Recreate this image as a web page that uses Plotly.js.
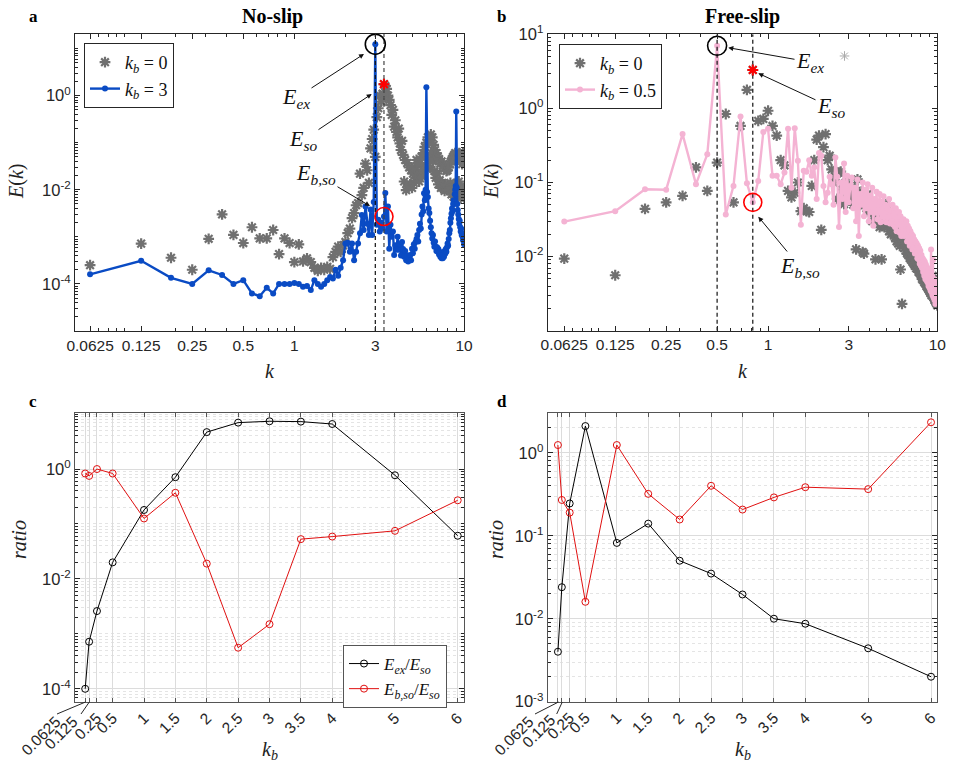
<!DOCTYPE html>
<html><head><meta charset="utf-8">
<script src="https://cdn.plot.ly/plotly-3.0.1.min.js"></script>
<style>body{margin:0;background:#fff}#chart{width:953px;height:763px}</style>
</head><body><div id="chart"></div>
<script>
// ---------- DATA ----------
const k = [
0.0625,0.125,0.1875,0.25,0.3125,0.375,0.4375,0.5,0.5625,0.625,0.6875,0.75,0.8125,0.875,0.9375,1,
1.0625,1.125,1.1875,1.25,1.3125,1.375,1.4375,1.5,1.5625,1.625,1.6875,1.75,1.8125,1.875,1.9375,2,
2.0625,2.125,2.1875,2.25,2.3125,2.375,2.4375,2.5,2.5625,2.625,2.6875,2.75,2.8125,2.875,2.9375,3,
3.0625,3.125,3.1875,3.25,3.3125,3.375,3.4375,3.5,3.5625,3.625,3.6875,3.75,3.8125,3.875,3.9375,4,
4.0625,4.125,4.1875,4.25,4.3125,4.375,4.4375,4.5,4.5625,4.625,4.6875,4.75,4.8125,4.875,4.9375,5,
5.0625,5.125,5.1875,5.25,5.3125,5.375,5.4375,5.5,5.5625,5.625,5.6875,5.75,5.8125,5.875,5.9375,6,
6.0625,6.125,6.1875,6.25,6.3125,6.375,6.4375,6.5,6.5625,6.625,6.6875,6.75,6.8125,6.875,6.9375,7,
7.0625,7.125,7.1875,7.25,7.3125,7.375,7.4375,7.5,7.5625,7.625,7.6875,7.75,7.8125,7.875,7.9375,8,
8.0625,8.125,8.1875,8.25,8.3125,8.375,8.4375,8.5,8.5625,8.625,8.6875,8.75,8.8125,8.875,8.9375,9,
9.0625,9.125,9.1875,9.25,9.3125,9.375,9.4375,9.5,9.5625,9.625,9.6875,9.75,9.8125,9.875,9.9375,10];

// No-slip, kb = 0 (grey asterisks)
const noslip_kb0 = [
2.5e-4,7.2e-4,3.6e-4,2.0e-4,9.1e-4,3.0e-3,1.1e-3,7.4e-4,1.6e-3,9.3e-4,9.3e-4,1.4e-3,4.3e-4,9.3e-4,7.4e-4,2.9e-4,
6.9e-4,3.0e-4,3.5e-4,2.9e-4,2.2e-4,1.9e-4,2.2e-4,2.0e-4,2.3e-4,2.1e-4,3.7e-4,4.8e-4,6.2e-4,4.8e-4,6.6e-4,7.8e-4,
1.2e-3,1.5e-3,2.5e-3,3.2e-3,4.7e-3,5.2e-3,2.2e-2,7.7e-3,1.1e-2,3.6e-2,2.6e-2,1.4e-2,7.6e-2,1.2e-1,1.9e-1,5.0e-2,
3.5e-1,5.4e-1,1.0,7.5e-1,1.1,1.75,1.6,1.4,1.0,8.1e-1,6.3e-1,3.9e-1,5.0e-1,2.2e-1,3.0e-1,1.7e-1,
1.3e-1,2.0e-1,9.7e-2,7.0e-2,1.1e-1,5.5e-2,1.5e-2,4.3e-2,9.8e-3,3.7e-2,1.2e-2,3.0e-2,1.3e-2,2.6e-2,1.1e-2,2.2e-2,
1.4e-2,3.0e-2,1.8e-2,4.3e-2,2.0e-2,3.7e-2,1.5e-2,3.7e-2,2.4e-2,5.0e-2,1.9e-2,6.0e-2,2.6e-2,8.2e-2,3.3e-2,1.0e-1,
2.8e-2,1.3e-1,4.5e-2,1.1e-1,3.0e-2,1.5e-1,6.0e-2,1.3e-1,4.0e-2,9.0e-2,2.5e-2,7.0e-2,1.8e-2,6.0e-2,2.2e-2,5.0e-2,
1.3e-2,4.5e-2,1.6e-2,3.6e-2,1.1e-2,4.0e-2,1.4e-2,3.2e-2,1.2e-2,2.8e-2,9.5e-3,3.0e-2,1.3e-2,2.5e-2,1.0e-2,2.6e-2,
1.2e-2,3.0e-2,9.8e-3,3.5e-2,1.4e-2,4.0e-2,8.0e-3,4.5e-2,1.1e-2,5.0e-2,7.1e-3,5.5e-2,1.3e-2,6.0e-2,9.0e-3,5.5e-2,
1.2e-2,4.5e-2,8.4e-3,5.0e-2,1.5e-2,6.0e-2,1.0e-2,4.0e-2,6.6e-3,5.5e-2,1.2e-2,3.5e-2,8.0e-3,6.2e-2,1.1e-2,4.0e-2];

// No-slip, kb = 3 (blue line)
const noslip_kb3 = [
1.6e-4,3.1e-4,1.35e-4,1.0e-4,1.95e-4,1.55e-4,1.0e-4,1.2e-4,6.3e-5,5.5e-5,8.3e-5,6.3e-5,1.0e-4,1.0e-4,1.0e-4,1.05e-4,
1.0e-4,8.7e-5,9.0e-5,7.4e-5,1.2e-4,1.0e-4,8.7e-5,1.0e-4,1.2e-4,1.4e-4,1.3e-4,2.0e-4,1.5e-4,2.2e-4,3.2e-4,7.2e-4,
7.5e-4,4.8e-4,7.2e-4,3.2e-4,4.8e-4,7.2e-4,1.2e-3,2.9e-3,1.4e-3,4.4e-3,1.9e-3,1.1e-3,3.8e-3,1.1e-3,5.5e-3,12.4,
1.8e-3,2.3e-3,1.3e-3,2.0e-3,1.5e-3,2.7e-3,8.6e-3,1.3e-3,4.4e-3,5.6e-4,1.8e-3,1.0e-3,1.3e-3,4.1e-4,6.6e-4,5.3e-4,
1.0e-3,5.3e-4,7.0e-4,4.0e-4,7.8e-4,5.5e-4,3.8e-4,5.0e-4,3.2e-4,4.0e-4,3.0e-4,3.6e-4,4.1e-4,3.2e-4,5.6e-4,4.5e-4,
7.0e-4,5.6e-4,7.8e-4,9.0e-4,1.1e-3,8.0e-4,1.4e-3,1.9e-3,1.5e-3,3.0e-3,4.4e-3,3.5e-3,8.4e-3,6.0e-3,1.0e-2,1.5,
9.0e-3,7.0e-3,4.0e-3,3.2e-3,2.2e-3,1.6e-3,1.2e-3,9.2e-4,1.1e-3,7.5e-4,6.2e-4,8.0e-4,6.2e-4,5.0e-4,6.0e-4,4.8e-4,
5.5e-4,4.2e-4,4.8e-4,3.8e-4,4.5e-4,3.5e-4,4.0e-4,3.5e-4,4.2e-4,3.8e-4,5.0e-4,4.4e-4,5.5e-4,4.8e-4,6.0e-4,7.2e-4,
6.5e-4,9.0e-4,1.2e-3,1.4e-3,2.0e-3,2.5e-3,3.1e-3,4.0e-3,3.5e-3,5.0e-3,6.0e-3,5.0e-3,8.0e-3,1.0e-2,1.2e-2,0.46,
1.1e-2,5.0e-3,3.7e-3,3.0e-3,2.4e-3,1.9e-3,2.2e-3,1.6e-3,1.3e-3,1.5e-3,1.1e-3,1.2e-3,1.0e-3,8.5e-4,1.0e-3,7.0e-4];

// Free-slip, kb = 0 (grey asterisks)
const freeslip_kb0 = [
9.4e-3,5.6e-3,0.044,0.054,0.066,0.16,0.077,0.186,0.84,0.054,0.58,1.78,3.3,0.68,0.72,0.93,
0.58,0.43,0.2,0.17,0.077,0.063,0.073,0.1,0.041,0.045,0.041,0.04,0.09,0.2,0.38,0.43,
0.023,0.3,0.45,0.2,0.23,0.15,0.1,0.12,0.06,0.136,0.14,0.08,0.051,0.1,0.073,0.09,
0.06,0.07,0.05,0.085,0.0125,0.11,0.06,0.05,0.075,0.0115,0.011,0.06,0.045,0.07,0.04,0.055,
0.041,0.03,0.05,0.035,0.0092,0.045,0.03,0.04,0.025,0.035,0.0092,0.03,0.045,0.025,0.035,0.051,
0.028,0.033,0.022,0.03,0.02,0.027,0.037,0.022,0.025,0.018,0.024,0.016,0.021,0.015,0.02,0.014,
0.0067,0.018,0.0023,0.016,0.021,0.013,0.017,0.012,0.015,0.011,0.014,0.0105,0.013,0.0095,0.012,0.009,
0.011,0.0085,0.0105,0.008,0.0098,0.0075,0.009,0.007,0.0085,0.0068,0.008,0.0062,0.0075,0.006,0.007,0.0057,
0.0065,0.005,0.0062,0.0048,0.0058,0.0045,0.0055,0.0043,0.005,0.004,0.0048,0.0038,0.0045,0.0036,0.0043,0.0034,
0.004,0.0032,0.0038,0.003,0.0036,0.0055,0.0034,0.0028,0.0032,0.0026,0.003,0.0025,0.0024,0.0028,0.0023,0.0022];

// Free-slip, kb = 0.5 (pink line)
const freeslip_kb05 = [
0.0297,0.041,0.081,0.080,0.45,0.095,0.24,7.0,0.037,0.09,0.78,0.098,0.054,0.105,0.48,0.53,
0.123,0.123,0.095,0.136,0.53,0.085,0.54,0.196,0.027,0.144,0.14,0.2,0.123,0.16,0.06,0.25,
0.23,0.09,0.054,0.073,0.12,0.095,0.05,0.218,0.12,0.025,0.1,0.06,0.18,0.04,0.123,0.054,
0.09,0.117,0.045,0.085,0.03,0.11,0.019,0.07,0.05,0.1,0.035,0.08,0.045,0.095,0.03,0.066,
0.04,0.085,0.026,0.06,0.039,0.075,0.032,0.05,0.07,0.029,0.055,0.035,0.065,0.03,0.05,0.029,
0.045,0.034,0.06,0.028,0.042,0.03,0.05,0.027,0.04,0.025,0.045,0.022,0.035,0.027,0.04,0.021,
0.035,0.019,0.03,0.022,0.032,0.019,0.028,0.02,0.03,0.016,0.026,0.018,0.024,0.014,0.022,0.016,
0.02,0.0125,0.019,0.013,0.017,0.011,0.016,0.0125,0.015,0.0095,0.014,0.0092,0.013,0.008,0.012,0.0075,
0.0105,0.007,0.0095,0.0062,0.009,0.0055,0.0085,0.005,0.0078,0.0048,0.0072,0.0045,0.0068,0.004,0.0062,0.0038,
0.006,0.0035,0.0125,0.0033,0.0055,0.003,0.009,0.0028,0.005,0.0026,0.0045,0.0023,0.004,0.0026,0.0035,0.0024];

// Highlighted modes
const noslip_ex = {k:[3], E:[12.4]};
const noslip_so = {k:[3.375], E:[1.75]};
const noslip_bso = {k:[3.375], E:[2.7e-3]};
const freeslip_ex = {k:[0.5], E:[7.0]};
const freeslip_so = {k:[0.8125], E:[3.3]};
const freeslip_bso = {k:[0.8125], E:[0.054]};
const freeslip_stray = {k:[2.83], E:[5.1]};

// Ratios vs kb
const kb = [0.0625,0.125,0.25,0.5,1,1.5,2,2.5,3,3.5,4,5,6];
const kbLabels = ['','','0.25','0.5','1','1.5','2','2.5','3','3.5','4','5','6'];
const noslip_ex_so  = [1.0e-4,7.2e-4,2.6e-3,2.0e-2,0.18,0.71,4.7,7.0,7.4,7.3,6.6,0.77,0.061];
const noslip_bso_so = [0.83,0.75,1.0,0.83,0.126,0.37,0.019,5.6e-4,1.5e-3,0.053,0.059,0.075,0.27];
const freeslip_ex_so  = [4.0e-3,0.024,0.245,2.1,0.082,0.14,0.05,0.035,0.0196,0.01,8.7e-3,4.4e-3,2.0e-3];
const freeslip_bso_so = [1.24,0.27,0.19,0.016,1.24,0.32,0.157,0.40,0.207,0.29,0.385,0.365,2.33];

// ---------- STYLE ----------
const W = 953, H = 763;
const SANS = 'Liberation Sans, Arial, sans-serif';
const SERIF = 'Liberation Serif, Times New Roman, serif';
const AX = '#262626';
const GREY = '#707070', BLUE = '#0a4bc4', PINK = '#f4b3d3';
const px = (x) => x / W, py = (y) => 1 - y / H;
const p10 = (e) => '10<sup>' + e + '</sup>';

function logMinor(d0, d1, skip) {
  const v = [];
  for (let d = d0; d <= d1; d++) for (let m = 1; m <= 9; m++) {
    if (m === 1 && skip.includes(d)) continue;
    v.push(m * Math.pow(10, d));
  }
  return v;
}
const xLogMinor = [0.07,0.08,0.09,0.1,0.2,0.3,0.4,0.6,0.7,0.8,0.9,2,4,5,6,7,8,9];

function xLog(domain, anchor, range) {
  return {domain, anchor, type:'log', range, tickmode:'array',
    tickvals:[0.0625,0.125,0.25,0.5,1,3,10], ticktext:['0.0625','0.125','0.25','0.5','1','3','10'],
    ticks:'inside', ticklen:5, tickcolor:AX, showline:true, linecolor:AX, linewidth:1, mirror:'ticks',
    showgrid:false, zeroline:false, tickfont:{family:SANS, size:15.5, color:AX},
    minor:{tickmode:'array', tickvals:xLogMinor, ticks:'inside', ticklen:3, tickcolor:AX, showgrid:false}};
}
function yLog(domain, anchor, range, exps, d0, d1, grid) {
  const o = {domain, anchor, type:'log', range, tickmode:'array',
    tickvals: exps.map(e => Math.pow(10, e)), ticktext: exps.map(p10),
    ticks:'inside', ticklen:5, tickcolor:AX, showline:true, linecolor: grid ? '#555' : AX, linewidth:1, mirror:'ticks',
    showgrid:!!grid, gridcolor:'#dcdcdc', gridwidth:1, zeroline:false, tickfont:{family:SANS, size:16.5, color:AX},
    minor:{tickmode:'array', tickvals:logMinor(d0, d1, exps), ticks:'inside', ticklen:3, tickcolor:AX,
      showgrid:!!grid, gridcolor:'#e4e4e4', griddash:'dot', gridwidth:1}};
  return o;
}
function xLin(domain, anchor) {
  return {domain, anchor, type:'linear', range:[-0.1, 6.1], tickmode:'array', tickvals:kb, ticktext:kbLabels,
    tickangle:-45, ticks:'inside', ticklen:4, tickcolor:'#555', showline:true, linecolor:'#555', linewidth:1, mirror:'ticks',
    showgrid:true, gridcolor:'#dcdcdc', gridwidth:1, zeroline:false, tickfont:{family:SANS, size:15.5, color:AX}};
}

const dash = {color:'#111', width:1.2, dash:'4px,3px'};
const traces = [
  // panel a
  {x:k, y:noslip_kb0, xaxis:'x', yaxis:'y', mode:'markers', name:'<i>k<sub>b</sub></i> = 0', legend:'legend',
   marker:{symbol:'asterisk-open', size:9, color:GREY, line:{color:GREY, width:2.2}}},
  {x:k, y:noslip_kb3, xaxis:'x', yaxis:'y', mode:'lines+markers', name:'<i>k<sub>b</sub></i> = 3', legend:'legend',
   line:{color:BLUE, width:2.4}, marker:{size:6, color:BLUE}},
  {x:[noslip_ex.k[0], noslip_ex.k[0]], y:[1e-5, 20.4], xaxis:'x', yaxis:'y', mode:'lines', line:dash, showlegend:false},
  {x:[noslip_so.k[0], noslip_so.k[0]], y:[1e-5, 20.4], xaxis:'x', yaxis:'y', mode:'lines', line:{color:'#444', width:1.2, dash:'4px,3px'}, showlegend:false},
  {x:noslip_so.k, y:noslip_so.E, xaxis:'x', yaxis:'y', mode:'markers', showlegend:false,
   marker:{symbol:'asterisk-open', size:9, color:'red', line:{color:'red', width:2}}},
  {x:noslip_ex.k, y:noslip_ex.E, xaxis:'x', yaxis:'y', mode:'markers', showlegend:false,
   marker:{symbol:'circle-open', size:20, color:'black', line:{width:1.6}}},
  {x:noslip_bso.k, y:noslip_bso.E, xaxis:'x', yaxis:'y', mode:'markers', showlegend:false,
   marker:{symbol:'circle-open', size:18, color:'red', line:{width:1.6}}},
  // panel b
  {x:k, y:freeslip_kb0, xaxis:'x2', yaxis:'y2', mode:'markers', name:'<i>k<sub>b</sub></i> = 0', legend:'legend2',
   marker:{symbol:'asterisk-open', size:9, color:GREY, line:{color:GREY, width:2.2}}},
  {x:k, y:freeslip_kb05, xaxis:'x2', yaxis:'y2', mode:'lines+markers', name:'<i>k<sub>b</sub></i> = 0.5', legend:'legend2',
   line:{color:PINK, width:2.4}, marker:{size:6, color:PINK}},
  {x:[freeslip_ex.k[0], freeslip_ex.k[0]], y:[1e-3, 10], xaxis:'x2', yaxis:'y2', mode:'lines', line:dash, showlegend:false},
  {x:[freeslip_so.k[0], freeslip_so.k[0]], y:[1e-3, 10], xaxis:'x2', yaxis:'y2', mode:'lines', line:dash, showlegend:false},
  {x:freeslip_so.k, y:freeslip_so.E, xaxis:'x2', yaxis:'y2', mode:'markers', showlegend:false,
   marker:{symbol:'asterisk-open', size:9, color:'red', line:{color:'red', width:2}}},
  {x:freeslip_stray.k, y:freeslip_stray.E, xaxis:'x2', yaxis:'y2', mode:'markers', showlegend:false,
   marker:{symbol:'asterisk-open', size:8, color:'#aaa', line:{color:'#aaa', width:1}}},
  {x:freeslip_ex.k, y:freeslip_ex.E, xaxis:'x2', yaxis:'y2', mode:'markers', showlegend:false,
   marker:{symbol:'circle-open', size:19, color:'black', line:{width:1.6}}},
  {x:freeslip_bso.k, y:freeslip_bso.E, xaxis:'x2', yaxis:'y2', mode:'markers', showlegend:false,
   marker:{symbol:'circle-open', size:18, color:'red', line:{width:1.6}}},
  // panel c
  {x:kb, y:noslip_ex_so, xaxis:'x3', yaxis:'y3', mode:'lines+markers', legend:'legend3',
   name:'<i>E<sub>ex</sub></i>/<i>E<sub>so</sub></i>', line:{color:'black', width:1},
   marker:{symbol:'circle-open', size:7, color:'black', line:{width:1}}},
  {x:kb, y:noslip_bso_so, xaxis:'x3', yaxis:'y3', mode:'lines+markers', legend:'legend3',
   name:'<i>E<sub>b,so</sub></i>/<i>E<sub>so</sub></i>', line:{color:'#e01010', width:1},
   marker:{symbol:'circle-open', size:7, color:'#e01010', line:{width:1}}},
  // panel d
  {x:kb, y:freeslip_ex_so, xaxis:'x4', yaxis:'y4', mode:'lines+markers', showlegend:false,
   line:{color:'black', width:1}, marker:{symbol:'circle-open', size:7, color:'black', line:{width:1}}},
  {x:kb, y:freeslip_bso_so, xaxis:'x4', yaxis:'y4', mode:'lines+markers', showlegend:false,
   line:{color:'#e01010', width:1}, marker:{symbol:'circle-open', size:7, color:'#e01010', line:{width:1}}}
];

const leftX = [px(75), px(464)], rightX = [px(547.7), px(937.3)];
const layout = {
  width:W, height:H, margin:{l:0, r:0, t:0, b:0}, paper_bgcolor:'white', plot_bgcolor:'white',
  showlegend:true,
  xaxis: xLog(leftX, 'y', [-1.293, 1.0]),
  yaxis: yLog([py(331), py(34)], 'x', [-5.0, 1.31], [-4, -2, 0], -5, 1, false),
  xaxis2: xLog(rightX, 'y2', [-1.302, 1.0]),
  yaxis2: yLog([py(330.7), py(34.3)], 'x2', [-3, 1], [-2, -1, 0, 1], -3, 0, false),
  xaxis3: xLin(leftX, 'y3'),
  yaxis3: yLog([py(702), py(413)], 'x3', [-4.24, 1.02], [-4, -2, 0], -5, 1, true),
  xaxis4: xLin(rightX, 'y4'),
  yaxis4: yLog([py(701.7), py(413.3)], 'x4', [-3, 0.476], [-3, -2, -1, 0], -3, 0, true),
  legend: {x:px(84), y:py(43), xanchor:'left', yanchor:'top', bgcolor:'white', bordercolor:AX, borderwidth:1,
    font:{family:SERIF, size:18, color:'#111'}, tracegroupgap:0},
  legend2: {x:px(559), y:py(44), xanchor:'left', yanchor:'top', bgcolor:'white', bordercolor:AX, borderwidth:1,
    font:{family:SERIF, size:18, color:'#111'}, tracegroupgap:0},
  legend3: {x:px(343), y:py(645), xanchor:'left', yanchor:'top', bgcolor:'white', bordercolor:'#555', borderwidth:1,
    font:{family:SERIF, size:17, color:'#111'}, tracegroupgap:0},
  annotations: [],
  shapes: []
};

const A = layout.annotations;
function txt(text, x, y, font, extra) {
  A.push(Object.assign({text, x:px(x), y:py(y), xref:'paper', yref:'paper', showarrow:false,
    xanchor:'center', yanchor:'middle', font}, extra || {}));
}
const bold = {family:SERIF, size:20, color:'black'};
txt('<b>No-slip</b>', 272, 17, bold);
txt('<b>Free-slip</b>', 742, 17, bold);
const letter = {family:SERIF, size:17, color:'black'};
txt('<b>a</b>', 33, 17, letter); txt('<b>b</b>', 502, 17, letter);
txt('<b>c</b>', 33, 401, letter); txt('<b>d</b>', 502, 401, letter);
const lab = {family:SERIF, size:20, color:'#222'};
txt('<i>k</i>', 270, 371, lab); txt('<i>k</i>', 743, 371, lab);
txt('<i>E</i>(<i>k</i>)', 16, 182, lab, {textangle:-90});
txt('<i>E</i>(<i>k</i>)', 491, 182, lab, {textangle:-90});
txt('<i>ratio</i>', 19, 540, lab, {textangle:-90});
txt('<i>ratio</i>', 496, 540, lab, {textangle:-90});
txt('<i>k<sub>b</sub></i>', 270, 750, lab); txt('<i>k<sub>b</sub></i>', 743, 750, lab);
const tf = {family:SANS, size:15.5, color:AX};
txt('0.0625', 40, 736, tf, {textangle:-45});
txt('0.125', 61, 732, tf, {textangle:-45});
txt('0.0625', 513, 736, tf, {textangle:-45});
txt('0.125', 538, 731, tf, {textangle:-45});
function seg(x0, y0, x1, y1) {
  layout.shapes.push({type:'line', xref:'paper', yref:'paper', x0:px(x0), y0:py(y0), x1:px(x1), y1:py(y1),
    line:{color:AX, width:1}});
}
seg(57, 714, 85.5, 702); seg(81, 714, 89.3, 702);
seg(535, 714, 558.5, 702); seg(556.7, 714, 562.3, 702);

const efont = {family:SERIF, size:22, color:'#111'};
function arr(text, cx, cy, hx, hy) {
  A.push({text, x:px(hx), y:py(hy), xref:'paper', yref:'paper', showarrow:true, ax:cx - hx, ay:cy - hy,
    arrowhead:2, arrowsize:1, arrowwidth:1, arrowcolor:'#111', font:efont});
}
arr('<i>E<sub>ex</sub></i>', 296, 98, 364, 54);
arr('<i>E<sub>so</sub></i>', 303, 140, 371.7, 94);
arr('<i>E<sub>b,so</sub></i>', 316, 174, 370, 206);
arr('<i>E<sub>ex</sub></i>', 810, 62, 728.3, 47.7);
arr('<i>E<sub>so</sub></i>', 831, 107, 758.3, 73.3);
arr('<i>E<sub>b,so</sub></i>', 800, 267, 758.3, 216.7);

Plotly.newPlot('chart', traces, layout, {staticPlot:true});
</script></body></html>
